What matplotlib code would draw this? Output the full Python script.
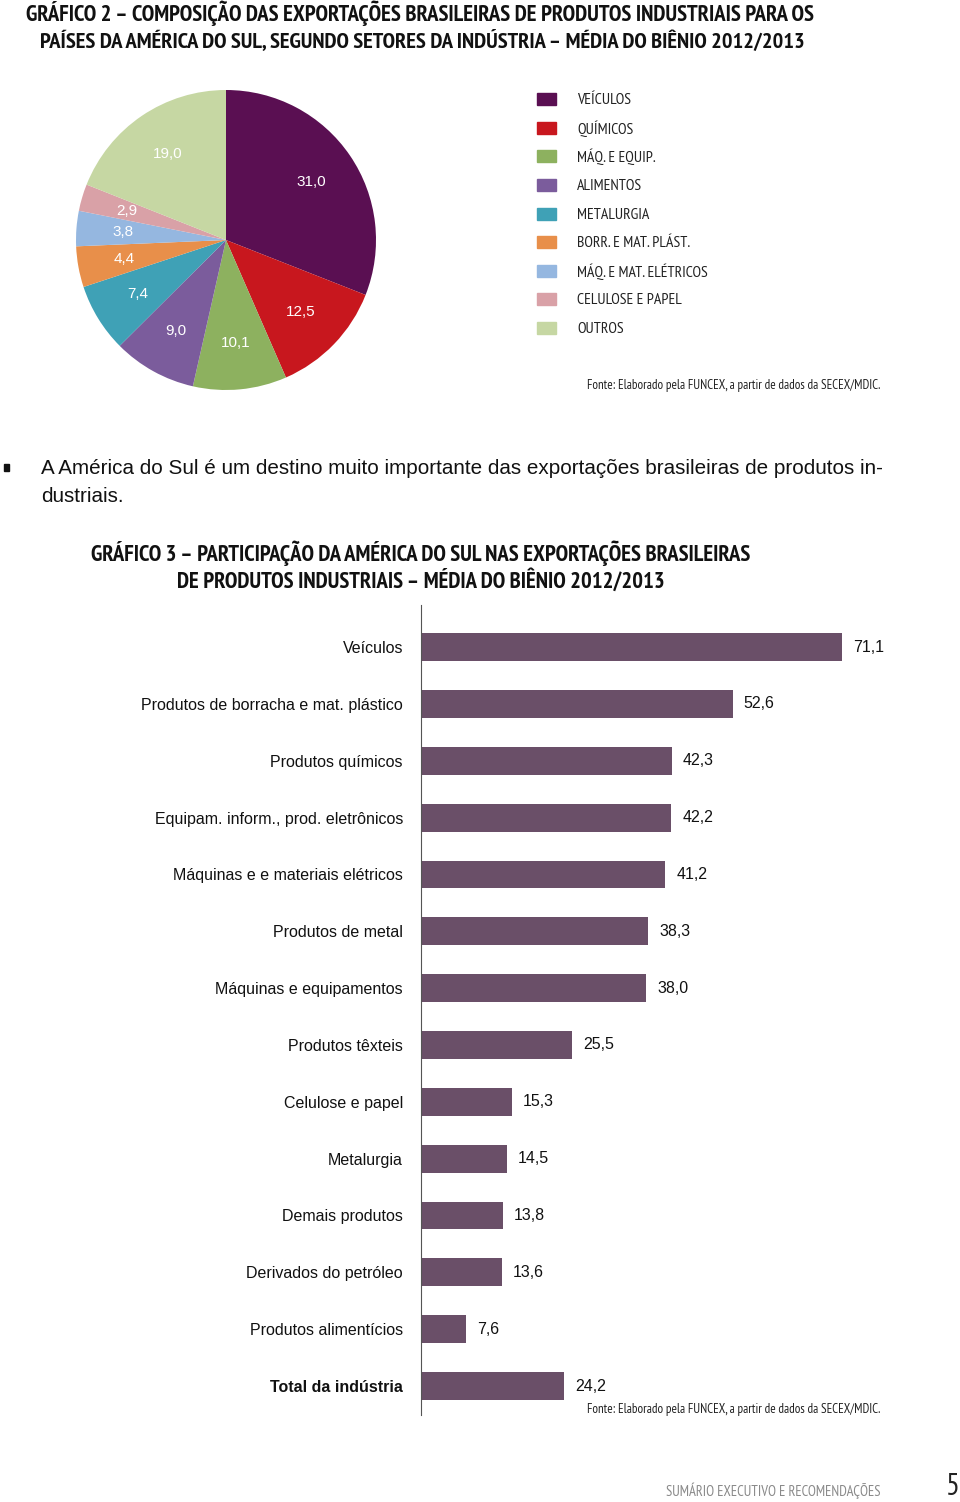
import matplotlib
matplotlib.use('Agg')
import matplotlib.pyplot as plt
from matplotlib.patches import Rectangle

# pie data (Gráfico 2)
setores = ['VEÍCULOS', 'QUÍMICOS', 'MÁQ. E EQUIP.', 'ALIMENTOS', 'METALURGIA',
           'BORR. E MAT. PLÁST.', 'MÁQ. E MAT. ELÉTRICOS', 'CELULOSE E PAPEL', 'OUTROS']
participacao = [31.0, 12.5, 10.1, 9.0, 7.4, 4.4, 3.8, 2.9, 19.0]
cores_pie = ['#5a0f52', '#c8171e', '#8db15f', '#7b5c9c', '#3fa1b6',
             '#e88f4a', '#95b7e0', '#d9a1a7', '#c6d7a3']

# bar data (Gráfico 3)
produtos = ['Veículos', 'Produtos de borracha e mat. plástico', 'Produtos químicos',
            'Equipam. inform., prod. eletrônicos', 'Máquinas e e materiais elétricos',
            'Produtos de metal', 'Máquinas e equipamentos', 'Produtos têxteis',
            'Celulose e papel', 'Metalurgia', 'Demais produtos', 'Derivados do petróleo',
            'Produtos alimentícios', 'Total da indústria']
valores = [71.1, 52.6, 42.3, 42.2, 41.2, 38.3, 38.0, 25.5, 15.3, 14.5, 13.8, 13.6, 7.6, 24.2]

W, H = 960, 1502
BOLDN = ['PT Sans Narrow', 'DejaVu Sans']
NARROW = ['PT Sans Narrow', 'DejaVu Sans']
REG = ['Liberation Sans', 'DejaVu Sans']

fig = plt.figure(figsize=(W / 100, H / 100), dpi=100)
fig.patch.set_facecolor('white')


def fx(x):
    return x / W


def fy(y):
    return 1 - y / H


def ftext(x, y, s, **kw):
    fig.text(fx(x), fy(y), s, **kw)


# titles
ftext(26, 13, 'GRÁFICO 2 – COMPOSIÇÃO DAS EXPORTAÇÕES BRASILEIRAS DE PRODUTOS INDUSTRIAIS PARA OS',
      family=BOLDN, weight='bold', fontsize=16.3, va='center', color='#111111')
ftext(40, 41, 'PAÍSES DA AMÉRICA DO SUL, SEGUNDO SETORES DA INDÚSTRIA – MÉDIA DO BIÊNIO 2012/2013',
      family=BOLDN, weight='bold', fontsize=16.2, va='center', color='#111111')

# pie
axp = fig.add_axes([fx(76), fy(390), 300 / W, 300 / H])
wedges, texts = axp.pie(participacao, colors=cores_pie, startangle=90, counterclock=False,
                        radius=1, labels=[f'{v:.1f}'.replace('.', ',') for v in participacao],
                        labeldistance=0.69, textprops=dict(color='white', fontsize=11, family=REG),
                        wedgeprops=dict(linewidth=0))
for t in texts:
    t.set_ha('center')
    t.set_va('center')
axp.set_xlim(-1, 1)
axp.set_ylim(-1, 1)
axp.set_aspect('equal')
axp.axis('off')

# legend
leg_y = [99, 128, 156, 185, 214, 242, 271, 299, 328]
for nome, cor, y in zip(setores, cores_pie, leg_y):
    fig.patches.append(Rectangle((fx(537), fy(y + 6)), 19 / W, 12 / H,
                                 transform=fig.transFigure, color=cor))
    ftext(577, y + 1, nome, family=NARROW, fontsize=11.3, va='center', color='#222222')

ftext(587, 386, 'Fonte: Elaborado pela FUNCEX, a partir de dados da SECEX/MDIC.',
      family=NARROW, fontsize=9.4, va='center', color='#222222')

# bullet paragraph
fig.patches.append(Rectangle((fx(4), fy(471)), 5 / W, 7 / H, transform=fig.transFigure, color='#111111'))
ftext(41, 468, 'A América do Sul é um destino muito importante das exportações brasileiras de produtos in-',
      family=REG, fontsize=14.85, va='center', color='#111111')
ftext(41, 496, 'dustriais.', family=REG, fontsize=14.85, va='center', color='#111111')

# second title
ftext(421, 553, 'GRÁFICO 3 – PARTICIPAÇÃO DA AMÉRICA DO SUL NAS EXPORTAÇÕES BRASILEIRAS',
      family=BOLDN, weight='bold', fontsize=16.3, va='center', ha='center', color='#111111')
ftext(421, 581, 'DE PRODUTOS INDUSTRIAIS – MÉDIA DO BIÊNIO 2012/2013',
      family=BOLDN, weight='bold', fontsize=16.3, va='center', ha='center', color='#111111')

# bars
axb = fig.add_axes([fx(421), fy(1415), 533 / W, 810 / H])
pos = list(range(len(produtos)))
axb.barh(pos, valores, height=0.49, color='#6a4f68', edgecolor='none')
axb.set_xlim(0, 90)
axb.set_ylim(13.51, -0.74)
for s in ['top', 'right', 'bottom']:
    axb.spines[s].set_visible(False)
axb.spines['left'].set_color('#555555')
axb.spines['left'].set_linewidth(0.8)
axb.set_xticks([])
axb.set_yticks(pos)
axb.set_yticklabels(produtos, family=REG, fontsize=11.5, color='#111111')
axb.tick_params(axis='y', length=0, pad=13)
axb.get_yticklabels()[-1].set_weight('bold')
for p, v in zip(pos, valores):
    axb.text(v + 1.9, p, f'{v:.1f}'.replace('.', ','), va='center', ha='left',
             family=REG, fontsize=11.5, color='#111111')

ftext(587, 1410, 'Fonte: Elaborado pela FUNCEX, a partir de dados da SECEX/MDIC.',
      family=NARROW, fontsize=9.4, va='center', color='#222222')

# footer
ftext(666, 1491, 'SUMÁRIO EXECUTIVO E RECOMENDAÇÕES', family=NARROW, fontsize=10.5,
      va='center', color='#8a8a8a')
ftext(960, 1487, '5', family=NARROW, fontsize=22, va='center', ha='right', color='#222222')

fig.savefig('out.png', dpi=100, facecolor='white')
